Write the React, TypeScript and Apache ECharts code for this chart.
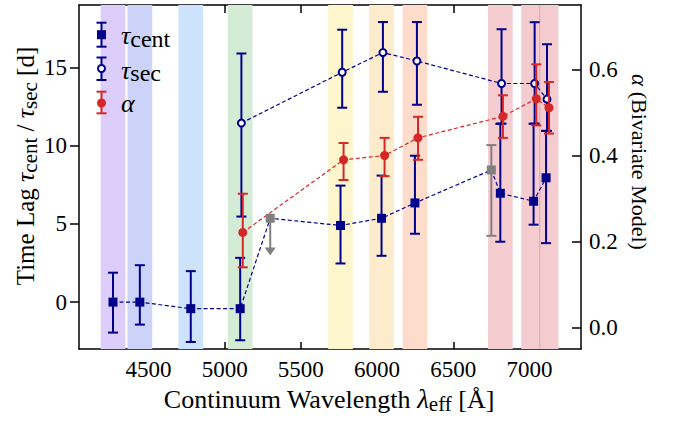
import React, { useEffect, useRef } from 'react';
import * as echarts from 'echarts';

// ---------- data ----------
const xTicks = [4500, 5000, 5500, 6000, 6500, 7000];
const yLeftTicks = [0, 5, 10, 15];
const yRightTicks = [0, 0.2, 0.4, 0.6];

const bandWaves = [4268, 4444, 4778, 5102, 5760, 6029, 6248, 6808, 7026, 7108];
const bandColors = ['#dccdfa', '#cbd3f9', '#cde3fb', '#d4ebd5', '#fdf5cc', '#fdeccc', '#fddccb', '#f5cdd0', '#f4cccf', '#f4cccf'];
const bandSeamWave = [7067];

const centWave = [4268, 4444, 4778, 5102, 5760, 6029, 6248, 6808, 7026, 7108];
const centVal = [0.0, 0.0, -0.42, -0.42, 4.9, 5.36, 6.34, 6.96, 6.45, 7.95];
const centLow = [-1.95, -1.44, -2.55, -2.44, 2.47, 2.96, 4.37, 3.86, 4.95, 3.77];
const centHigh = [1.88, 2.36, 1.98, 2.83, 7.45, 8.09, 9.36, 11.4, 11.4, 10.95];

const limitWave = [5299];
const limitVal = [5.36];
const limitTip = [2.98];

const grayWave = [6749];
const grayVal = [8.45];
const grayLow = [4.24];
const grayHigh = [10.04];

const secWave = [5110, 5771, 6038, 6261, 6816, 7033, 7114];
const secVal = [11.45, 14.7, 15.96, 15.42, 13.98, 13.98, 12.98];
const secLow = [5.47, 12.43, 13.45, 12.62, 11.42, 11.42, 10.95];
const secHigh = [15.9, 17.42, 17.91, 17.91, 17.45, 17.9, 16.49];

const alphaWave = [5119, 5780, 6049, 6268, 6825, 7044, 7127];
const alphaVal = [0.221, 0.39, 0.4, 0.441, 0.491, 0.532, 0.511];
const alphaLow = [0.14, 0.343, 0.352, 0.39, 0.441, 0.47, 0.451];
const alphaHigh = [0.311, 0.429, 0.441, 0.49, 0.54, 0.612, 0.571];

// ---------- styles ----------
const FONT = '"Liberation Serif", "Times New Roman", serif';
const NAVY = '#00008b';
const RED = '#d62728';
const GRAY = '#808080';
const BAND_HALF = 81;
const CAP = 5;

function errSeries(name: string, waves: number[], lo: number[], hi: number[], color: string, yAxisIndex: number, z: number) {
  return {
    type: 'custom',
    name,
    xAxisIndex: 0,
    yAxisIndex,
    z,
    silent: true,
    data: waves.map((w, i) => [w, lo[i], hi[i]]),
    encode: { x: 0, y: [1, 2] },
    renderItem: (params: any, api: any) => {
      const x = api.value(0);
      const a = api.coord([x, api.value(1)]);
      const b = api.coord([x, api.value(2)]);
      const st = { stroke: color, lineWidth: 2 };
      return {
        type: 'group',
        children: [
          { type: 'line', shape: { x1: a[0], y1: a[1], x2: b[0], y2: b[1] }, style: st },
          { type: 'line', shape: { x1: a[0] - CAP, y1: a[1], x2: a[0] + CAP, y2: a[1] }, style: st },
          { type: 'line', shape: { x1: b[0] - CAP, y1: b[1], x2: b[0] + CAP, y2: b[1] }, style: st },
        ],
      };
    },
  };
}

function dashedLine(waves: number[], vals: number[], color: string, yAxisIndex: number) {
  return {
    type: 'line',
    xAxisIndex: 0,
    yAxisIndex,
    z: 2,
    silent: true,
    symbol: 'none',
    data: waves.map((w, i) => [w, vals[i]]),
    lineStyle: { color, width: 1.2, type: [4, 2.5] },
    emphasis: { disabled: true },
  };
}

const centLinePts = [
  ...centWave.map((w, i) => [w, centVal[i]]),
  ...limitWave.map((w, i) => [w, limitVal[i]]),
  ...grayWave.map((w, i) => [w, grayVal[i]]),
].sort((p, q) => p[0] - q[0]);

const axisLineStyle = { color: '#000', width: 1.5 };
const labelStyle = { color: '#000', fontFamily: FONT, fontSize: 23 };

function buildOption() {
  const series: any[] = [
    {
      type: 'custom',
      z: 1,
      silent: true,
      data: bandWaves.map((w) => [w, 0]),
      encode: { x: 0, y: 1 },
      renderItem: (params: any, api: any) => {
        const c = api.value(0);
        const l = api.coord([c - BAND_HALF, 0]);
        const r = api.coord([c + BAND_HALF, 0]);
        const cs = params.coordSys;
        return {
          type: 'rect',
          shape: { x: l[0], y: cs.y, width: r[0] - l[0], height: cs.height },
          style: { fill: bandColors[params.dataIndex] },
        };
      },
    },
    {
      type: 'custom',
      z: 1,
      silent: true,
      data: bandSeamWave.map((w) => [w, 0]),
      encode: { x: 0, y: 1 },
      renderItem: (params: any, api: any) => {
        const p = api.coord([api.value(0), 0]);
        const cs = params.coordSys;
        return {
          type: 'line',
          shape: { x1: p[0], y1: cs.y, x2: p[0], y2: cs.y + cs.height },
          style: { stroke: '#dba3a6', lineWidth: 1 },
        };
      },
    },
    dashedLine(centLinePts.map((p) => p[0]), centLinePts.map((p) => p[1]), NAVY, 0),
    dashedLine(secWave, secVal, NAVY, 0),
    dashedLine(alphaWave, alphaVal, RED, 1),
    errSeries('centErr', centWave, centLow, centHigh, NAVY, 0, 3),
    errSeries('grayErr', grayWave, grayLow, grayHigh, GRAY, 0, 3),
    {
      type: 'custom',
      z: 3,
      silent: true,
      data: limitWave.map((w, i) => [w, limitVal[i], limitTip[i]]),
      encode: { x: 0, y: [1, 2] },
      renderItem: (params: any, api: any) => {
        const a = api.coord([api.value(0), api.value(1)]);
        const b = api.coord([api.value(0), api.value(2)]);
        return {
          type: 'group',
          children: [
            { type: 'line', shape: { x1: a[0], y1: a[1], x2: b[0], y2: b[1] - 6 }, style: { stroke: GRAY, lineWidth: 2 } },
            { type: 'polygon', shape: { points: [[b[0] - 5.5, b[1] - 8], [b[0] + 5.5, b[1] - 8], [b[0], b[1]]] }, style: { fill: GRAY } },
          ],
        };
      },
    },
    {
      type: 'scatter',
      z: 4,
      silent: true,
      symbol: 'rect',
      symbolSize: 9,
      data: centWave.map((w, i) => [w, centVal[i]]),
      itemStyle: { color: NAVY, opacity: 1 },
    },
    {
      type: 'scatter',
      z: 4,
      silent: true,
      symbol: 'rect',
      symbolSize: 9,
      data: [...limitWave.map((w, i) => [w, limitVal[i]]), ...grayWave.map((w, i) => [w, grayVal[i]])],
      itemStyle: { color: GRAY, opacity: 1 },
    },
    errSeries('secErr', secWave, secLow, secHigh, NAVY, 0, 5),
    {
      type: 'scatter',
      z: 6,
      silent: true,
      symbol: 'circle',
      symbolSize: 7,
      data: secWave.map((w, i) => [w, secVal[i]]),
      itemStyle: { color: '#fff', borderColor: NAVY, borderWidth: 2, opacity: 1 },
    },
    errSeries('alphaErr', alphaWave, alphaLow, alphaHigh, RED, 1, 7),
    {
      type: 'scatter',
      z: 8,
      silent: true,
      yAxisIndex: 1,
      symbol: 'circle',
      symbolSize: 9,
      data: alphaWave.map((w, i) => [w, alphaVal[i]]),
      itemStyle: { color: RED, opacity: 1 },
    },
  ];

  const capLine = (x: number, y: number, c: string) => ({ type: 'line', z: 100, shape: { x1: x - CAP, y1: y, x2: x + CAP, y2: y }, style: { stroke: c, lineWidth: 2 } });
  const legendErr = (x: number, y1: number, y2: number, c: string) => [
    { type: 'line', z: 100, shape: { x1: x, y1, x2: x, y2 }, style: { stroke: c, lineWidth: 2 } },
    capLine(x, y1, c),
    capLine(x, y2, c),
  ];
  const LX = 101.5;
  const rich = (main: number, sub: number, subLH: number) => ({
    n: { fontFamily: FONT, fontSize: main, lineHeight: 30, fill: '#000' },
    i: { fontFamily: FONT, fontSize: main + 1, fontStyle: 'italic', lineHeight: 30, fill: '#000' },
    s: { fontFamily: FONT, fontSize: sub, lineHeight: subLH, verticalAlign: 'bottom', fill: '#000' },
  });
  const txt = (x: number, y: number, text: string, r: any, align: string, rotation = 0) => ({
    type: 'text', z: 100, x, y, rotation,
    style: { text, align, verticalAlign: 'middle', fill: '#000', fontFamily: FONT, fontSize: 24, rich: r },
  });

  const legendRich = rich(25, 24, 18);
  const graphic: any[] = [
    ...legendErr(LX, 22.7, 46.7, NAVY),
    { type: 'rect', z: 100, shape: { x: LX - 4.5, y: 34.7 - 4.5, width: 9, height: 9 }, style: { fill: NAVY } },
    ...legendErr(LX, 57.5, 80, NAVY),
    { type: 'circle', z: 100, shape: { cx: LX, cy: 68.5, r: 3.5 }, style: { fill: '#fff', stroke: NAVY, lineWidth: 2 } },
    ...legendErr(LX, 91.7, 113.3, RED),
    { type: 'circle', z: 100, shape: { cx: LX, cy: 103, r: 4.5 }, style: { fill: RED } },
    txt(121, 35.5, '{i|τ}{s|cent}', legendRich, 'left'),
    txt(121, 70, '{i|τ}{s|sec}', legendRich, 'left'),
    txt(121, 103, '{i|α}', legendRich, 'left'),
    txt(329, 399, '{n|Continuum Wavelength }{i|λ}{s|eff}{n| [Å]}', rich(26, 21, 12), 'center'),
    txt(25, 166, '{n|Time Lag }{i|τ}{s|cent}{n| / }{i|τ}{s|sec}{n| [d]}', rich(25, 21, 14), 'center', Math.PI / 2),
    txt(639, 162, '{i|α}{n| (Bivariate Model)}', rich(22, 18, 16), 'center', -Math.PI / 2),
  ];

  return {
    animation: false,
    backgroundColor: '#fff',
    textStyle: { fontFamily: FONT },
    grid: { left: 79, right: 95, top: 5, bottom: 72, containLabel: false, outerBoundsMode: 'none' },
    xAxis: [
      {
        type: 'value', min: 4045, max: 7337, position: 'bottom',
        axisLine: { show: true, onZero: false, lineStyle: axisLineStyle },
        axisTick: { show: true, inside: true, length: 7, lineStyle: axisLineStyle, customValues: xTicks },
        axisLabel: { show: true, customValues: xTicks, margin: 9, formatter: (v: number) => String(v), ...labelStyle },
        splitLine: { show: false },
      },
      {
        type: 'value', min: 4045, max: 7337, position: 'top',
        axisLine: { show: true, onZero: false, lineStyle: axisLineStyle },
        axisTick: { show: true, inside: true, length: 8, lineStyle: axisLineStyle, customValues: xTicks },
        axisLabel: { show: false },
        splitLine: { show: false },
      },
    ],
    yAxis: [
      {
        type: 'value', min: -3, max: 19, position: 'left',
        axisLine: { show: true, onZero: false, lineStyle: axisLineStyle },
        axisTick: { show: true, inside: false, length: 9, lineStyle: axisLineStyle, customValues: yLeftTicks },
        axisLabel: { show: true, customValues: yLeftTicks, margin: 12, formatter: (v: number) => String(v), ...labelStyle },
        splitLine: { show: false },
      },
      {
        type: 'value', min: -0.05, max: 0.75, position: 'right',
        axisLine: { show: true, onZero: false, lineStyle: axisLineStyle },
        axisTick: { show: true, inside: true, length: 9, lineStyle: axisLineStyle, customValues: yRightTicks },
        axisLabel: { show: true, customValues: yRightTicks, margin: 8, formatter: (v: number) => v.toFixed(1), ...labelStyle },
        splitLine: { show: false },
      },
    ],
    series,
    graphic,
  };
}

export default function App() {
  const ref = useRef<HTMLDivElement>(null);
  useEffect(() => {
    if (!ref.current) return;
    const chart = echarts.init(ref.current, null, { renderer: 'svg' });
    chart.setOption(buildOption() as any);
    return () => chart.dispose();
  }, []);
  return <div ref={ref} style={{ position: 'absolute', left: 0, top: 0, width: 676, height: 421, background: '#fff' }} />;
}
